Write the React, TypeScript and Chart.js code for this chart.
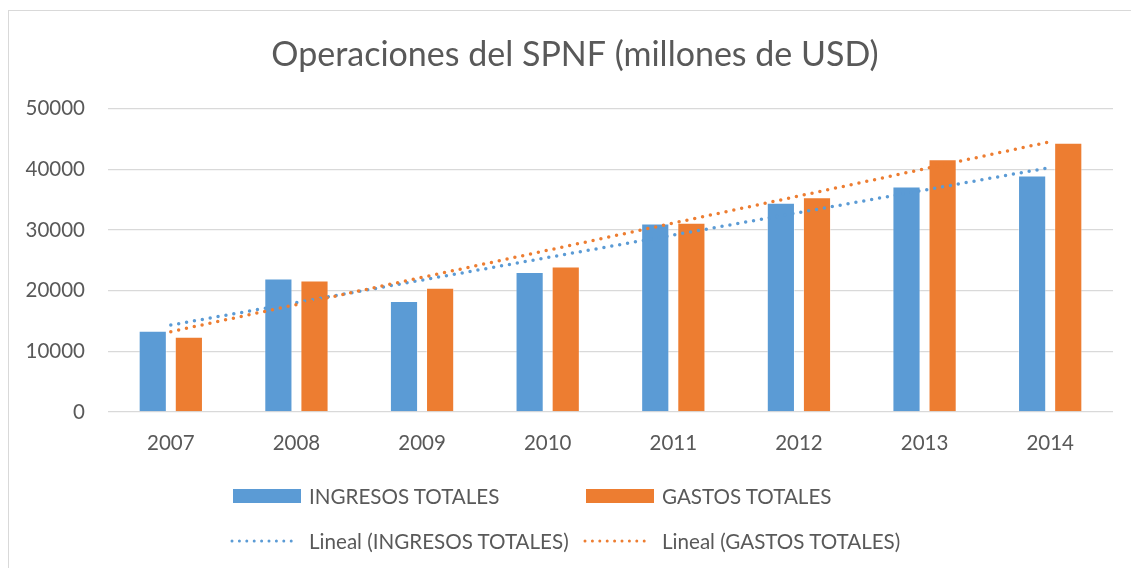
import React, { useEffect, useRef } from "react";
import { Chart, registerables } from "chart.js";

Chart.register(...registerables);

const categories = ["2007", "2008", "2009", "2010", "2011", "2012", "2013", "2014"];
const ingresosTotales = [13400, 22000, 18300, 23100, 31100, 34500, 37200, 39000];
const gastosTotales = [12400, 21700, 20500, 24000, 31200, 35400, 41700, 44400];
const yTickValues = [0, 10000, 20000, 30000, 40000, 50000];

const seriesNames = ["INGRESOS TOTALES", "GASTOS TOTALES"];
const trendNames = ["Lineal (INGRESOS TOTALES)", "Lineal (GASTOS TOTALES)"];
const titleText = "Operaciones del SPNF (millones de USD)";

const BLUE = "#5B9BD5";
const ORANGE = "#ED7D31";
const TEXT = "#595959";
const GRID = "#D9D9D9";
const FONT = "Lato, 'Liberation Sans', sans-serif";

// Least-squares linear trend (as Excel's "Lineal" trendline)
function linearTrend(values: number[]): number[] {
  const n = values.length;
  const xs = values.map((_, i) => i + 1);
  const mx = xs.reduce((a, b) => a + b, 0) / n;
  const my = values.reduce((a, b) => a + b, 0) / n;
  let num = 0;
  let den = 0;
  for (let i = 0; i < n; i++) {
    num += (xs[i] - mx) * (values[i] - my);
    den += (xs[i] - mx) * (xs[i] - mx);
  }
  const slope = num / den;
  const intercept = my - slope * mx;
  return xs.map((x) => intercept + slope * x);
}

function LegendBox({ color }: { color: string }) {
  return <span style={{ display: "block", width: 68, height: 14, background: color }} />;
}

function LegendLine({ color }: { color: string }) {
  return (
    <svg width={70} height={8} style={{ display: "block" }}>
      <line x1={2} y1={4} x2={68} y2={4} stroke={color} strokeWidth={3} strokeLinecap="round" strokeDasharray="0 7.4" />
    </svg>
  );
}

export default function App() {
  const canvasRef = useRef<HTMLCanvasElement | null>(null);

  useEffect(() => {
    if (!canvasRef.current) return;
    const chart = new Chart(canvasRef.current, {
      type: "bar",
      data: {
        labels: categories,
        datasets: [
          {
            type: "line",
            label: trendNames[0],
            data: linearTrend(ingresosTotales),
            borderColor: BLUE,
            borderWidth: 3.5,
            borderDash: [0, 8],
            borderCapStyle: "round",
            pointRadius: 0,
            fill: false,
            order: 1,
          } as any,
          {
            type: "line",
            label: trendNames[1],
            data: linearTrend(gastosTotales),
            borderColor: ORANGE,
            borderWidth: 3.5,
            borderDash: [0, 8],
            borderCapStyle: "round",
            pointRadius: 0,
            fill: false,
            order: 0,
          } as any,
          {
            label: seriesNames[0],
            data: ingresosTotales,
            backgroundColor: BLUE,
            borderColor: "rgba(255,255,255,0.45)",
            borderWidth: 1,
            barPercentage: 0.78,
            categoryPercentage: 0.575,
            order: 2,
          },
          {
            label: seriesNames[1],
            data: gastosTotales,
            backgroundColor: ORANGE,
            borderColor: "rgba(255,255,255,0.45)",
            borderWidth: 1,
            barPercentage: 0.78,
            categoryPercentage: 0.575,
            order: 3,
          },
        ],
      },
      options: {
        animation: false,
        responsive: false,
        devicePixelRatio: 1,
        layout: { padding: { left: 19, right: 0, top: 0, bottom: 0 } },
        plugins: {
          legend: { display: false },
          tooltip: { enabled: false },
          title: {
            display: true,
            text: titleText,
            color: TEXT,
            font: { family: FONT, size: 34, weight: "normal" },
            padding: { top: 35, bottom: 33 },
          },
        },
        scales: {
          x: {
            grid: { display: false, drawTicks: false },
            border: { display: false },
            ticks: {
              color: TEXT,
              font: { family: FONT, size: 20.5 },
              padding: 19,
              maxRotation: 0,
            },
            afterFit: (scale: any) => {
              scale.height = 156;
            },
          },
          y: {
            min: 0,
            max: 50000,
            afterBuildTicks: (scale: any) => {
              scale.ticks = yTickValues.map((v) => ({ value: v }));
            },
            grid: { color: GRID, lineWidth: 1.3, drawTicks: false },
            border: { display: false },
            ticks: {
              color: TEXT,
              font: { family: FONT, size: 20.5 },
              padding: 23,
              callback: (v: any) => String(v),
            },
            afterFit: (scale: any) => {
              scale.width = 89;
            },
          },
          rightSpacer: {
            position: "right",
            display: true,
            grid: { display: false, drawTicks: false },
            border: { display: false },
            ticks: { display: false },
            afterFit: (scale: any) => {
              scale.width = 18;
            },
          },
        },
      } as any,
    });
    return () => chart.destroy();
  }, []);

  const labelStyle: React.CSSProperties = {
    position: "absolute",
    fontFamily: FONT,
    fontSize: 20.6,
    color: TEXT,
    whiteSpace: "nowrap",
    lineHeight: "24px",
  };

  return (
    <div style={{ position: "absolute", left: 0, top: 0, width: 1131, height: 568, overflow: "hidden", background: "#fff" }}>
      <div style={{ position: "absolute", left: 8, top: 10, width: 1200, height: 700, border: `1.5px solid ${GRID}` }} />
      <canvas ref={canvasRef} width={1131} height={568} style={{ position: "absolute", left: 0, top: 0 }} />
      <div style={{ position: "absolute", left: 233, top: 489 }}><LegendBox color={BLUE} /></div>
      <div style={{ ...labelStyle, left: 309, top: 484 }}>{seriesNames[0]}</div>
      <div style={{ position: "absolute", left: 586, top: 489 }}><LegendBox color={ORANGE} /></div>
      <div style={{ ...labelStyle, left: 662, top: 484 }}>{seriesNames[1]}</div>
      <div style={{ position: "absolute", left: 230, top: 537 }}><LegendLine color={BLUE} /></div>
      <div style={{ ...labelStyle, left: 309, top: 529 }}>{trendNames[0]}</div>
      <div style={{ position: "absolute", left: 583, top: 537 }}><LegendLine color={ORANGE} /></div>
      <div style={{ ...labelStyle, left: 662, top: 529 }}>{trendNames[1]}</div>
    </div>
  );
}
